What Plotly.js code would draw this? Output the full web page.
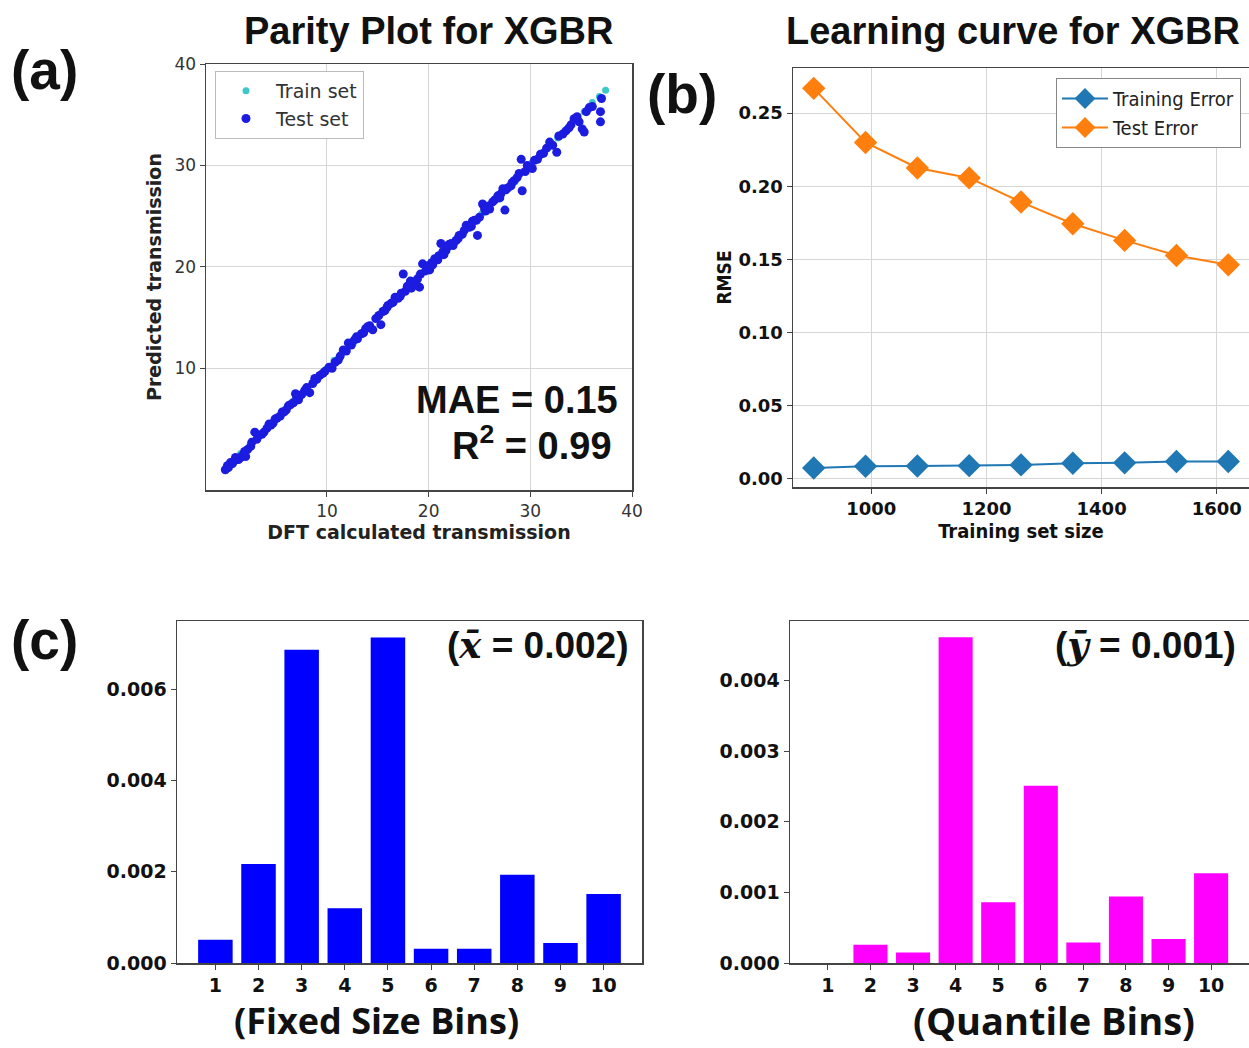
<!DOCTYPE html>
<html>
<head>
<meta charset="utf-8">
<script src="https://cdn.plot.ly/plotly-3.0.1.min.js"></script>
<style>html,body{margin:0;padding:0;background:#fff;}#chart{width:1249px;height:1048px;}</style>
</head>
<body>
<div id="chart"></div>
<script>
// ---------- (a) Parity plot data ----------
const trainX = [0.4,0.8,1.5,2.3,3.2,3.9,4.7,5.8,6.6,7.3,8.1,9.0,9.9,10.7,11.5,12.6,13.3,14.1,15.0,15.9,16.6,17.4,18.3,19.0,19.9,20.8,21.6,22.5,23.4,24.1,25.2,26.0,26.9,27.6,28.5,29.4,30.1,31.0,31.8,32.7,33.6,34.5,35.3,36.1,36.8,37.4];
const trainY = [0.5,0.8,1.6,2.2,3.3,3.9,4.6,5.9,6.7,7.3,8.1,9.1,9.9,10.8,11.5,12.5,13.4,14.1,15.0,15.9,16.7,17.4,18.2,19.1,19.9,20.8,21.7,22.5,23.3,24.2,25.2,26.0,26.9,27.7,28.4,29.4,30.2,31.0,31.8,32.7,33.6,34.5,35.3,36.2,36.8,37.4];
const testX = [0.0,0.2,0.5,0.7,0.9,1.1,1.3,1.5,1.7,2.0,2.2,2.5,2.6,2.9,3.1,3.6,4.1,4.5,4.9,5.1,5.4,5.6,6.0,6.4,6.9,7.2,7.5,7.8,8.3,8.8,9.0,9.3,9.8,10.5,10.8,11.1,11.6,11.9,12.1,12.4,12.7,13.0,13.4,13.8,14.2,14.5,14.8,15.3,15.5,15.7,15.9,16.3,16.7,17.0,17.3,17.5,17.7,18.0,18.2,18.5,18.7,19.1,19.2,19.4,19.7,20.1,20.3,20.6,20.9,21.2,21.4,21.7,21.9,22.2,22.4,22.7,23.0,23.3,23.7,24.0,24.2,24.5,24.8,25.0,25.3,25.6,26.0,26.3,26.8,27.1,27.3,27.5,27.8,28.1,28.4,28.7,28.9,29.1,29.2,29.5,29.7,30.2,30.4,31.0,31.6,31.9,32.2,32.6,32.8,33.2,33.5,34.0,34.3,34.8,35.1,35.3,35.8,36.1,36.9,36.9,37.0,
  0.3,1.0,1.9,3.3,3.8,4.3,4.7,5.8,6.2,6.7,7.0,8.0,8.6,9.6,10.2,11.3,12.9,13.6,14.0,15.1,16.0,16.5,17.2,17.9,18.3,18.9,19.9,20.4,21.0,21.5,22.0,22.9,23.5,24.3,24.7,25.5,25.9,26.5,27.0,27.6,28.2,29.9,30.7,31.3,33.8,34.6,35.5];
const testY = [0.0,0.4,0.7,0.6,0.9,1.0,1.0,1.2,1.4,1.3,2.0,2.3,2.7,3.7,3.0,3.5,4.1,4.4,5.0,5.1,5.3,5.7,5.9,6.4,7.5,6.9,7.4,7.8,7.6,9.0,8.9,9.3,9.7,10.0,10.6,10.8,11.8,11.7,12.5,12.3,12.8,12.9,13.4,13.9,14.2,13.8,14.9,14.3,15.6,15.7,16.0,16.4,17.0,16.9,17.4,19.3,17.6,18.0,18.6,18.5,18.2,18.0,19.3,20.3,19.6,19.7,20.4,20.8,20.7,22.3,21.5,21.6,22.0,22.3,22.1,22.6,23.1,23.2,24.1,23.9,24.0,24.6,23.1,24.9,26.2,25.5,25.7,26.4,27.0,27.2,27.7,25.6,27.8,28.0,28.5,28.8,29.2,30.6,27.5,29.4,30.0,29.7,30.5,31.1,31.7,32.3,32.0,31.3,32.9,33.1,33.4,34.0,34.6,34.3,33.6,33.3,35.7,35.8,34.3,35.3,36.6,
  0.2,1.2,1.8,3.4,3.7,4.5,4.6,5.7,6.3,6.6,7.2,8.1,8.5,9.5,10.1,11.2,13.1,13.5,14.1,15.2,16.2,16.5,17.1,18.1,17.9,18.8,20.1,20.2,21.1,21.2,22.2,22.8,23.6,24.5,24.6,25.7,26.0,26.6,26.8,27.6,28.3,29.8,30.6,31.2,33.7,34.8,35.3];

// ---------- (b) Learning curve data ----------
const trainSizes = [900,990,1080,1170,1260,1350,1440,1530,1620];
const trainingError = [0.0075,0.0087,0.0089,0.0091,0.0096,0.0107,0.0110,0.0119,0.0119];
const testError = [0.2669,0.2299,0.2125,0.2057,0.1892,0.1744,0.1630,0.1527,0.1463];

// ---------- (c) bins data ----------
const binLabels = [1,2,3,4,5,6,7,8,9,10];
const fixedBinValues = [0.00051,0.00217,0.00686,0.00120,0.00713,0.00031,0.00031,0.00193,0.00044,0.00151];
const quantileBinValues = [0.0,0.00026,0.00015,0.00461,0.00086,0.00251,0.00029,0.00094,0.00034,0.00127];

const W = 1249, H = 1048;
const px = v => v / W;
const py = v => 1 - v / H;

const DJ = "DejaVu Sans, sans-serif";
const DJC = "DejaVu Sans Condensed, DejaVu Sans, sans-serif";
const ARIAL = "Liberation Sans, Arial, sans-serif";

const traces = [
  {x: trainX, y: trainY, type: "scatter", mode: "markers", name: "Train set",
   marker: {color: "#3cc8c8", size: 7}, xaxis: "x", yaxis: "y", legend: "legend"},
  {x: testX, y: testY, type: "scatter", mode: "markers", name: "Test set",
   marker: {color: "#1c1ce0", size: 9}, xaxis: "x", yaxis: "y", legend: "legend"},
  {x: trainSizes, y: trainingError, type: "scatter", mode: "lines+markers", name: "Training Error",
   line: {color: "#1f77b4", width: 2}, marker: {symbol: "diamond", size: 18, color: "#1f77b4"},
   xaxis: "x2", yaxis: "y2", legend: "legend2"},
  {x: trainSizes, y: testError, type: "scatter", mode: "lines+markers", name: "Test Error",
   line: {color: "#ff7f0e", width: 2}, marker: {symbol: "diamond", size: 18, color: "#ff7f0e"},
   xaxis: "x2", yaxis: "y2", legend: "legend2"},
  {x: binLabels, y: fixedBinValues, type: "bar", width: 0.8, marker: {color: "#0000ff"},
   xaxis: "x3", yaxis: "y3", showlegend: false},
  {x: binLabels, y: quantileBinValues, type: "bar", width: 0.8, marker: {color: "#ff00ff"},
   xaxis: "x4", yaxis: "y4", showlegend: false}
];

const boxAxis = {
  showline: true, mirror: true, linecolor: "#444", linewidth: 1.5,
  ticks: "outside", ticklen: 5, tickcolor: "#444", zeroline: false
};

function ann(text, x, y, size, family, xanchor) {
  return {text: text, x: px(x), y: py(y), xref: "paper", yref: "paper",
          xanchor: xanchor || "center", yanchor: "middle", showarrow: false,
          font: {family: family, size: size, color: "#111"}};
}

const layout = {
  width: W, height: H,
  margin: {l: 0, r: 0, t: 0, b: 0},
  paper_bgcolor: "#fff", plot_bgcolor: "#fff",
  xaxis: Object.assign({}, boxAxis, {
    domain: [px(206), px(632)], range: [-1.9, 40], tickvals: [10,20,30,40],
    showgrid: true, gridcolor: "#d6d6d6", gridwidth: 1,
    tickfont: {family: DJ, size: 17, color: "#333"},
    title: {text: "<b>DFT calculated transmission</b>", font: {family: DJ, size: 19, color: "#222"}, standoff: 4},
    anchor: "y"
  }),
  yaxis: Object.assign({}, boxAxis, {
    domain: [py(490), py(64)], range: [-2, 40], tickvals: [10,20,30,40],
    showgrid: true, gridcolor: "#d6d6d6", gridwidth: 1,
    tickfont: {family: DJ, size: 17, color: "#333"},
    title: {text: "<b>Predicted transmission</b>", font: {family: DJ, size: 19, color: "#222"}, standoff: 8},
    anchor: "x"
  }),
  xaxis2: Object.assign({}, boxAxis, {
    domain: [px(793), 1], range: [864, 1656], tickvals: [1000,1200,1400,1600],
    showgrid: true, gridcolor: "#d6d6d6",
    tickfont: {family: DJ, size: 18, color: "#111", weight: "bold"},
    title: {text: "<b>Training set size</b>", font: {family: DJC, size: 20, color: "#111"}, standoff: 4},
    anchor: "y2"
  }),
  yaxis2: Object.assign({}, boxAxis, {
    domain: [py(487), py(68)], range: [-0.0055, 0.2808], tickvals: [0,0.05,0.10,0.15,0.20,0.25],
    tickformat: ".2f", showgrid: true, gridcolor: "#d6d6d6",
    tickfont: {family: DJ, size: 18, color: "#111", weight: "bold"},
    title: {text: "<b>RMSE</b>", font: {family: DJC, size: 19, color: "#111"}, standoff: 2},
    anchor: "x2"
  }),
  xaxis3: Object.assign({}, boxAxis, {
    domain: [px(177), px(642)], range: [0.11, 10.89], tickvals: binLabels,
    showgrid: false,
    tickfont: {family: DJ, size: 19, color: "#111", weight: "bold"},
    anchor: "y3"
  }),
  yaxis3: Object.assign({}, boxAxis, {
    domain: [py(963), py(621)], range: [0, 0.00749], tickvals: [0,0.002,0.004,0.006],
    tickformat: ".3f", showgrid: false,
    tickfont: {family: DJ, size: 19, color: "#111", weight: "bold"},
    anchor: "x3"
  }),
  xaxis4: Object.assign({}, boxAxis, {
    domain: [px(790), 1], range: [0.11, 10.89], tickvals: binLabels,
    showgrid: false,
    tickfont: {family: DJ, size: 19, color: "#111", weight: "bold"},
    anchor: "y4"
  }),
  yaxis4: Object.assign({}, boxAxis, {
    domain: [py(963), py(621)], range: [0, 0.00484], tickvals: [0,0.001,0.002,0.003,0.004],
    tickformat: ".3f", showgrid: false,
    tickfont: {family: DJ, size: 19, color: "#111", weight: "bold"},
    anchor: "x4"
  }),
  legend: {
    x: px(215), y: py(71), xanchor: "left", yanchor: "top",
    bgcolor: "#fff", bordercolor: "#bbb", borderwidth: 1, itemwidth: 50,
    font: {family: DJ, size: 19, color: "#333"}, tracegroupgap: 0
  },
  legend2: {
    x: px(1241), y: py(78), xanchor: "right", yanchor: "top",
    bgcolor: "#fff", bordercolor: "#888", borderwidth: 1, itemwidth: 46,
    font: {family: DJC, size: 20, color: "#222"}, tracegroupgap: 0
  },
  annotations: [
    ann("<b>Parity Plot for XGBR</b>", 429, 31, 38, ARIAL),
    ann("<b>Learning curve for XGBR</b>", 1013, 31, 38, ARIAL),
    ann("<b>(a)</b>", 44, 70, 55, ARIAL),
    ann("<b>(b)</b>", 682, 94, 55, ARIAL),
    ann("<b>(c)</b>", 44, 640, 55, ARIAL),
    ann("<b>MAE = 0.15</b>", 620, 400, 38, ARIAL, "right"),
    ann("<b>R<sup>2</sup> = 0.99</b>", 614, 443, 38, ARIAL, "right"),
    ann("<b>(<span style=\"font-family:'DejaVu Serif'\"><i>x̄</i></span> = 0.002)</b>", 630, 645, 37, ARIAL, "right"),
    ann("<b>(<span style=\"font-family:'DejaVu Serif'\"><i>ȳ</i></span> = 0.001)</b>", 1238, 645, 37, ARIAL, "right"),
    ann("<b>(Fixed Size Bins)</b>", 376, 1020, 36, "Open Sans, sans-serif"),
    ann("<b>(Quantile Bins)</b>", 1054, 1020, 38, "Open Sans, sans-serif")
  ]
};

Plotly.newPlot("chart", traces, layout, {displayModeBar: false, staticPlot: true});
</script>
</body>
</html>
